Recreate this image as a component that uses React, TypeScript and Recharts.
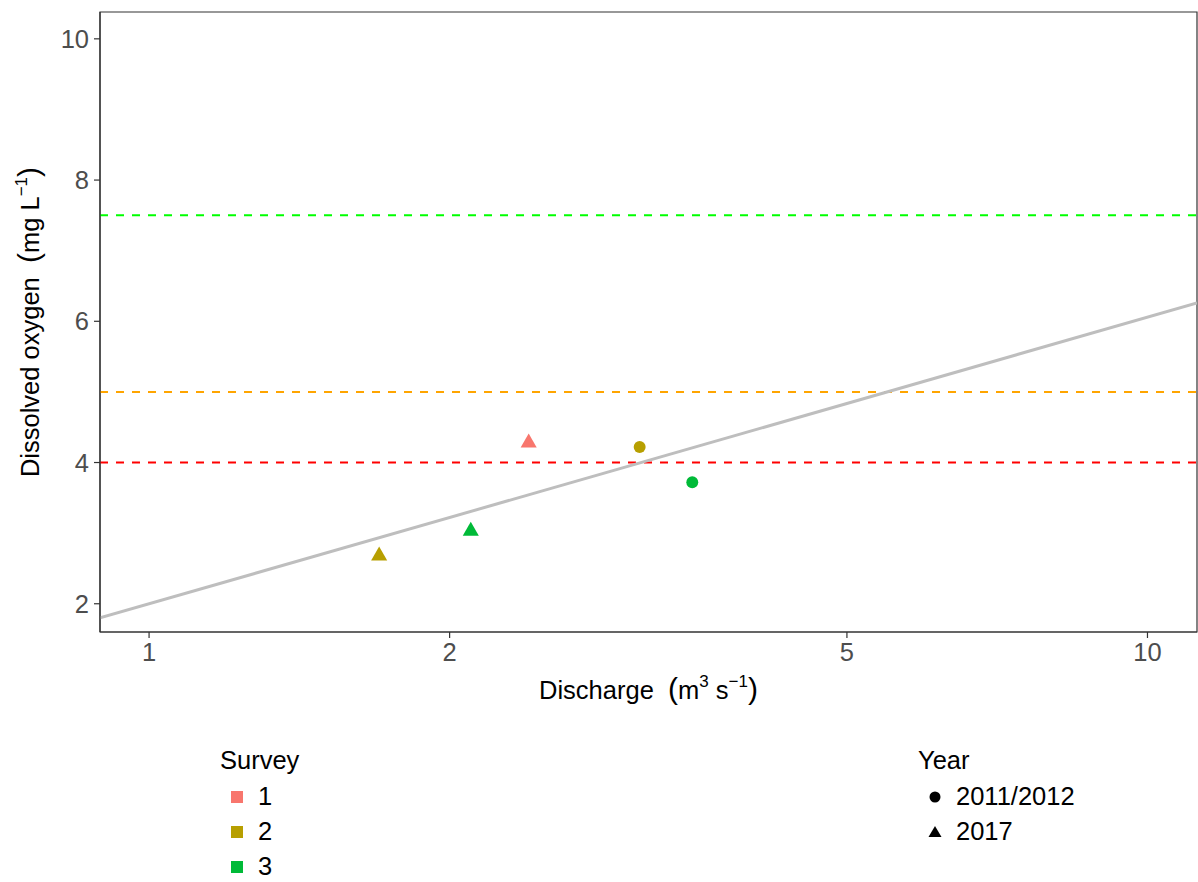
import React from 'react'
import {
  ComposedChart,
  Scatter,
  Line,
  XAxis,
  YAxis,
  ZAxis,
  ReferenceLine,
  ReferenceArea,
} from 'recharts'

// survey / year legend levels
const surveys = ['1', '2', '3']
const surveyColors = ['#F8766D', '#B79F00', '#00BA38']
const years = ['2011/2012', '2017']
const yearShapes = ['circle', 'triangle']

const discharge = [2.4, 1.7, 2.1, 3.1, 3.5]
const oxygen = [4.28, 2.68, 3.03, 4.22, 3.72]
const obsSurvey = ['1', '2', '3', '2', '3']
const obsYear = ['2017', '2017', '2017', '2011/2012', '2011/2012']

// fitted line endpoints (log-linear fit, panel edges)
const fitDischarge = [0.893, 11.21]
const fitOxygen = [1.8, 6.26]

// threshold lines
const thresholds = [7.5, 5, 4]
const thresholdColors = ['#00FF00', '#FFA500', '#FF0000']

const xDomain = [0.893, 11.21]
const yDomain = [1.6, 10.38]
const xTicks = [1, 2, 5, 10]
const yTicks = [2, 4, 6, 8, 10]

const FONT = '"Liberation Sans", Arial, sans-serif'
const TXT = 25.5

const fitData = fitDischarge.map((x, i) => ({ x, y: fitOxygen[i] }))

const groups = surveys.flatMap((s, si) =>
  years.map((yr, yi) => ({
    key: `${s}-${yr}`,
    color: surveyColors[si],
    shape: yearShapes[yi],
    data: discharge
      .map((x, i) => ({ x, y: oxygen[i], s: obsSurvey[i], yr: obsYear[i] }))
      .filter((d) => d.s === s && d.yr === yr),
  }))
).filter((g) => g.data.length > 0)

function XTitle(props: any) {
  const { viewBox } = props
  const cx = viewBox.x + viewBox.width / 2
  const y = viewBox.y + 67
  return (
    <text x={cx} y={y} textAnchor="middle" fontFamily={FONT} fontSize={TXT} fill="#000" xmlSpace="preserve">
      <tspan>Discharge  </tspan>
      <tspan fontSize={30}>(</tspan>
      <tspan>m</tspan>
      <tspan fontSize={17} dy={-12}>3</tspan>
      <tspan dy={12}> s</tspan>
      <tspan fontSize={17} dy={-12}>−1</tspan>
      <tspan fontSize={30} dy={12}>)</tspan>
    </text>
  )
}

function YTitle(props: any) {
  const { viewBox } = props
  const cy = viewBox.y + viewBox.height / 2
  const x = 39
  return (
    <text
      x={x}
      y={cy}
      transform={`rotate(-90 ${x} ${cy})`}
      textAnchor="middle"
      fontFamily={FONT}
      fontSize={TXT}
      fill="#000"
      xmlSpace="preserve"
    >
      <tspan>Dissolved oxygen  </tspan>
      <tspan fontSize={30}>(</tspan>
      <tspan>mg L</tspan>
      <tspan fontSize={17} dy={-12}>−1</tspan>
      <tspan fontSize={30} dy={12}>)</tspan>
    </text>
  )
}

function KeyShape({ shape, color }: { shape: string; color: string }) {
  return (
    <svg width={16} height={16} style={{ display: 'block' }}>
      {shape === 'square' && <rect x={2} y={2} width={12} height={12} fill={color} />}
      {shape === 'circle' && <circle cx={8} cy={8} r={5.5} fill={color} />}
      {shape === 'triangle' && <polygon points="8,2 14.5,13 1.5,13" fill={color} />}
    </svg>
  )
}

function LegendBlock({
  title,
  left,
  items,
}: {
  title: string
  left: number
  items: { label: string; shape: string; color: string }[]
}) {
  return (
    <div style={{ position: 'absolute', left, top: 744, fontFamily: FONT, color: '#000' }}>
      <div style={{ fontSize: TXT, lineHeight: '32px', height: 35 }}>{title}</div>
      {items.map((it) => (
        <div
          key={it.label}
          style={{ display: 'flex', alignItems: 'center', height: 35, fontSize: TXT }}
        >
          <div style={{ width: 17, marginLeft: 9 }}>
            <KeyShape shape={it.shape} color={it.color} />
          </div>
          <span style={{ marginLeft: 12 }}>{it.label}</span>
        </div>
      ))}
    </div>
  )
}

export default function App() {
  return (
    <div style={{ position: 'absolute', left: 0, top: 0, width: 1198, height: 882, background: '#fff' }}>
      <ComposedChart
        width={1198}
        height={882}
        margin={{ top: 12, right: 1, bottom: 170, left: 40 }}
      >
        <XAxis
          dataKey="x"
          type="number"
          scale="log"
          domain={xDomain}
          ticks={xTicks}
          allowDataOverflow
          height={80}
          tickSize={6}
          tickMargin={5}
          axisLine={{ stroke: '#333333', strokeWidth: 1.2 }}
          tickLine={{ stroke: '#333333', strokeWidth: 1.2 }}
          tick={{ fill: '#4D4D4D', fontSize: TXT, fontFamily: FONT }}
          label={<XTitle />}
        />
        <YAxis
          dataKey="y"
          type="number"
          domain={yDomain}
          ticks={yTicks}
          allowDataOverflow
          width={60}
          tickSize={6}
          tickMargin={5}
          axisLine={{ stroke: '#333333', strokeWidth: 1.2 }}
          tickLine={{ stroke: '#333333', strokeWidth: 1.2 }}
          tick={{ fill: '#4D4D4D', fontSize: TXT, fontFamily: FONT }}
          label={<YTitle />}
        />
        <ZAxis range={[112, 112]} />
        <ReferenceArea
          x1={xDomain[0]}
          x2={xDomain[1]}
          y1={yDomain[0]}
          y2={yDomain[1]}
          fill="none"
          stroke="#333333"
          strokeWidth={1.2}
          ifOverflow="visible"
        />
        {thresholds.map((t, i) => (
          <ReferenceLine
            key={t}
            y={t}
            stroke={thresholdColors[i]}
            strokeWidth={2}
            strokeDasharray="8 8"
          />
        ))}
        <Line
          data={fitData}
          dataKey="y"
          type="linear"
          stroke="#BEBEBE"
          strokeWidth={3}
          dot={false}
          activeDot={false}
          isAnimationActive={false}
        />
        {groups.map((g) => (
          <Scatter
            key={g.key}
            data={g.data}
            fill={g.color}
            shape={g.shape as any}
            isAnimationActive={false}
          />
        ))}
      </ComposedChart>
      <LegendBlock
        title="Survey"
        left={220}
        items={surveys.map((s, i) => ({ label: s, shape: 'square', color: surveyColors[i] }))}
      />
      <LegendBlock
        title="Year"
        left={918}
        items={years.map((y, i) => ({ label: y, shape: yearShapes[i], color: '#000' }))}
      />
    </div>
  )
}
